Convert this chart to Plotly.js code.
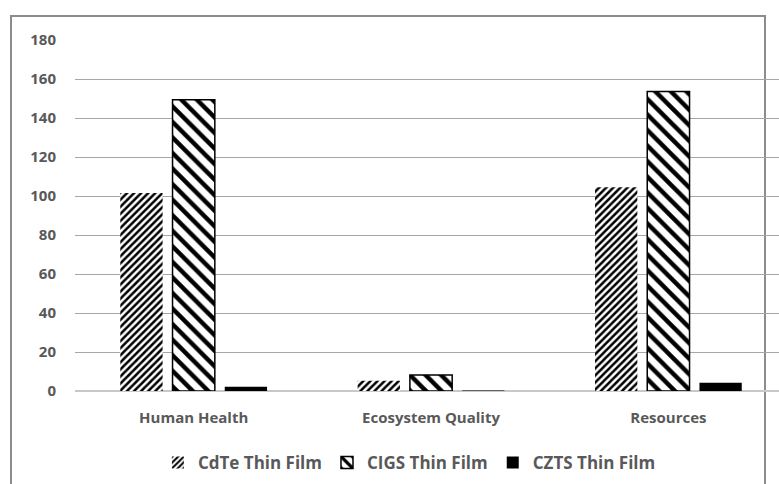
<!DOCTYPE html>
<html>
<head>
<meta charset="utf-8">
<script src="https://cdn.plot.ly/plotly-3.0.1.min.js"></script>
<style>
html,body{margin:0;padding:0;background:#fff;}
#frame{position:absolute;left:10px;top:15px;width:756px;height:520px;border:2px solid #8c8c8c;box-sizing:border-box;}
#chart{position:absolute;left:0;top:0;width:779px;height:484px;}
</style>
</head>
<body>
<div id="frame"></div>
<div id="chart"></div>
<script>
var categories = ["Human Health", "Ecosystem Quality", "Resources"];
var cdte = [101.5, 5.2, 104.5];
var cigs = [149.3, 8.2, 153.6];
var czts = [2.2, 0.3, 4.2];
var seriesNames = ["CdTe Thin Film", "CIGS Thin Film", "CZTS Thin Film"];
var yTicks = [0, 20, 40, 60, 80, 100, 120, 140, 160, 180];

var txt = {family: "Open Sans, Lato, sans-serif", size: 15, color: "#595959", weight: "bold"};
var legTxt = {family: "Open Sans, Lato, sans-serif", size: 17, color: "#595959", weight: "bold"};

var traces = [
  {type: "bar", name: seriesNames[0], x: categories, y: cdte,
   marker: {color: "white", line: {width: 0},
     pattern: {shape: "/", fgcolor: "black", bgcolor: "white", size: 5, solidity: 0.5, fillmode: "replace"}}},
  {type: "bar", name: seriesNames[1], x: categories, y: cigs,
   marker: {color: "white", line: {width: 1.5, color: "black"},
     pattern: {shape: "\\", fgcolor: "black", bgcolor: "white", size: 11, solidity: 0.4, fillmode: "replace"}}},
  {type: "bar", name: seriesNames[2], x: categories, y: czts,
   marker: {color: "black", line: {width: 0}}}
];

var layout = {
  width: 779, height: 484,
  margin: {l: 75, r: 0, t: 40, b: 93},
  paper_bgcolor: "rgba(0,0,0,0)", plot_bgcolor: "rgba(0,0,0,0)",
  barmode: "group", bargap: 0.34, bargroupgap: 0.19,
  font: txt,
  showlegend: true,
  legend: {orientation: "h", x: 0.475, xanchor: "center", y: -0.205, yanchor: "middle",
    font: legTxt, traceorder: "normal", itemwidth: 30},
  xaxis: {type: "category", range: [-0.5, 2.466], showgrid: false, zeroline: false,
    showline: false, ticks: "", tickfont: txt, ticklabelstandoff: 16, fixedrange: true},
  yaxis: {range: [0, 180], tickvals: yTicks, ticktext: yTicks.map(String),
    showgrid: true, gridcolor: "#a6a6a6", gridwidth: 1,
    zeroline: true, zerolinecolor: "#c8c8c8", zerolinewidth: 1.5,
    showline: false, ticks: "", tickfont: txt, ticklabelstandoff: 18, fixedrange: true}
};

Plotly.newPlot("chart", traces, layout, {displayModeBar: false, staticPlot: true});
</script>
</body>
</html>
